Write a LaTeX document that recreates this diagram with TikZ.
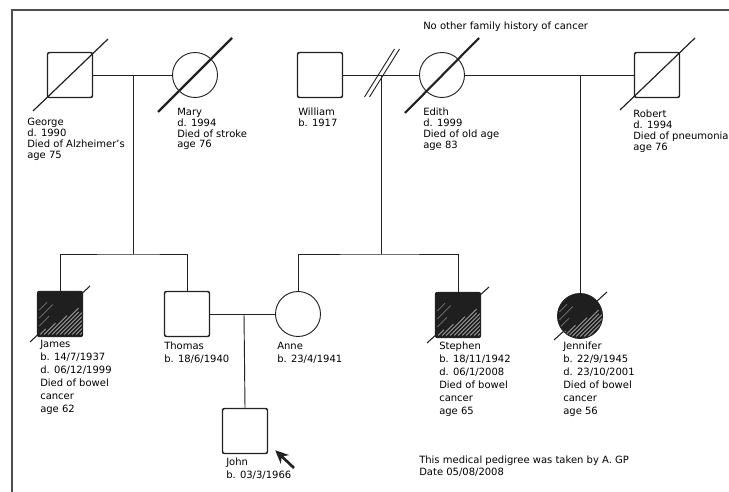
\documentclass[tikz,border=0pt]{standalone}
\usepackage{fontspec}
\setmainfont{DejaVu Sans}
\usetikzlibrary{arrows.meta}
\definecolor{ink}{HTML}{222222}
\definecolor{streak}{HTML}{B4B4B4}
\tikzset{
  person/.style={draw=ink, fill=white, minimum size=33.75pt, inner sep=0pt},
  male/.style={person, rectangle, rounded corners=1.5pt, line width=1.1pt},
  female/.style={person, circle, line width=0.7pt},
  affected/.style={fill=black!88, path picture={
      \foreach \d/\l in {2/6, 5/12, 8/20, 11/28, 14/24, 17/30, 20/22, 23/16, 26/12, 29/8, 32/4}
        \draw[streak, line width=0.45pt]
          ([xshift=\d pt, yshift=1.5pt]path picture bounding box.south west) -- ++(45:\l pt);
      \foreach \d/\l in {8/10, 14/14, 20/8}
        \draw[streak, line width=0.35pt]
          ([xshift=1.5pt, yshift=\d pt]path picture bounding box.south west) -- ++(45:\l pt);}},
  dead/.style={draw=ink, line width=0.9pt},
  rel/.style={draw=ink, line width=0.7pt},
  info/.style={anchor=north west, inner sep=0pt, align=left, font=\fontsize{7.5}{8.1}\selectfont},
  infotall/.style={info, font=\fontsize{7.5}{9.75}\selectfont},
  proband/.style={-{Stealth[length=10pt,width=9pt]}, line width=2pt, draw=ink}
}
\begin{document}
\begin{tikzpicture}[x=0.75pt, y=-0.75pt]
  \useasboundingbox (0,0) rectangle (729,492);
  \draw[ink!80, line width=1pt] (12,492) -- (12,10) -- (729,10);

  % first generation
  \node[male] (george) at (70,75) {};
  \node[female] (mary) at (195,75) {};
  \node[male] (william) at (320,75) {};
  \node[female] (edith) at (442,75) {};
  \node[male] (robert) at (657,75) {};

  \draw[dead] ([shift={(-37,36)}]george.center) -- ([shift={(38,-36)}]george.center);
  \draw[dead, line width=1.6pt] ([shift={(-37,37)}]mary.center) -- ([shift={(37,-37)}]mary.center);
  \draw[dead, line width=1.6pt] ([shift={(-37,38)}]edith.center) -- ([shift={(37,-37)}]edith.center);
  \draw[dead] ([shift={(-37,35)}]robert.center) -- ([shift={(38,-37)}]robert.center);

  \node[info] (georgeinfo) at (27,118) {George\\d. 1990\\Died of Alzheimer's\\age 75};
  \node[info] (maryinfo) at (177,108) {Mary\\d. 1994\\Died of stroke\\age 76};
  \node[info] (williaminfo) at (298,108) {William\\b. 1917};
  \node[info] (edithinfo) at (423,108) {Edith\\d. 1999\\Died of old age\\age 83};
  \node[info] (robertinfo) at (633,110) {Robert\\d. 1994\\Died of pneumonia\\age 76};
  \node[info] (history) at (423,22) {No other family history of cancer};

  % second generation
  \node[male, affected] (james) at (60,314) {};
  \node[male] (thomas) at (187,314) {};
  \node[female] (anne) at (298,314) {};
  \node[male, affected] (stephen) at (458,315) {};
  \node[female, affected] (jennifer) at (580,316) {};

  \draw[dead, line width=0.8pt] ([shift={(-30,28)}]james.center) -- ([shift={(30,-28)}]james.center);
  \draw[dead, line width=0.8pt] ([shift={(-31,28)}]stephen.center) -- ([shift={(31,-28)}]stephen.center);
  \draw[dead, line width=0.8pt] ([shift={(-26,24)}]jennifer.center) -- ([shift={(27,-24)}]jennifer.center);

  \node[infotall] (jamesinfo) at (40,340) {James\\b. 14/7/1937\\d. 06/12/1999\\Died of bowel\\cancer\\age 62};
  \node[infotall] (thomasinfo) at (164,342) {Thomas\\b. 18/6/1940};
  \node[infotall] (anneinfo) at (277,342) {Anne\\b. 23/4/1941};
  \node[infotall] (stepheninfo) at (439,342) {Stephen\\b. 18/11/1942\\d. 06/1/2008\\Died of bowel\\cancer\\age 65};
  \node[infotall] (jenniferinfo) at (563,342) {Jennifer\\b. 22/9/1945\\d. 23/10/2001\\Died of bowel\\cancer\\age 56};

  % third generation
  \node[male] (john) at (245,431) {};
  \node[infotall] (johninfo) at (226,458) {John\\b. 03/3/1966};
  \coordinate (pointer) at (294,468);
  \draw[proband] (pointer) -- ([shift={(7,-4)}]john.south east);

  \node[info, font=\fontsize{7.5}{9}\selectfont] (footnote) at (419,456)
    {This medical pedigree was taken by A. GP\\Date 05/08/2008};

  % couples and sibships
  \coordinate (gm) at (133,75);
  \coordinate (gmsib) at (133,254);
  \coordinate (we) at (381,75);
  \coordinate (wesib) at (381,254);
  \coordinate (er) at (580,75);
  \coordinate (ta) at (244,314);
  \coordinate (split) at (382,73);

  \draw[rel] (george) -- (mary);
  \draw[rel] (william) -- (edith);
  \draw[rel] (edith) -- (robert);
  \draw[rel] (thomas) -- (anne);
  \foreach \s in {-2.5,2.5}
    \draw[rel] ([shift={(\s-15,24)}]split) -- ([shift={(\s+15,-24)}]split);

  \draw[rel] (gm) -- (gmsib);
  \draw[rel] (james.north) |- (gmsib) -| (thomas.north);
  \draw[rel] (we) -- (wesib);
  \draw[rel] (anne.north) |- (wesib) -| (stephen.north);
  \draw[rel] (er) -- (jennifer.north);
  \draw[rel] (ta) -- (john.north);
\end{tikzpicture}
\end{document}
